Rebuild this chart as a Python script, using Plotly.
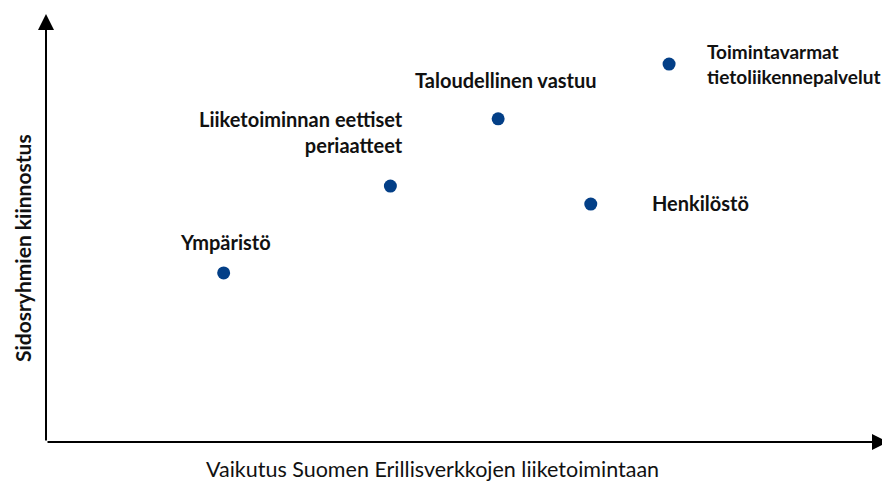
import plotly.graph_objects as go

labels = ["Ympäristö", "Liiketoiminnan eettiset<br>periaatteet", "Taloudellinen vastuu",
          "Henkilöstö", "Toimintavarmat<br>tietoliikennepalvelut"]
impact = [2.11, 4.09, 5.37, 6.47, 7.40]
interest = [3.95, 5.98, 7.55, 5.56, 8.83]

x_title = "Vaikutus Suomen Erillisverkkojen liiketoimintaan"
y_title = "Sidosryhmien kiinnostus"

FONT = "Lato"
fig = go.Figure()
fig.add_trace(go.Scatter(
    x=impact, y=interest, mode="markers",
    marker=dict(size=13, color="#033f87"),
    hoverinfo="skip", showlegend=False,
))

# label placement: (xanchor, yanchor, xshift, yshift, align, size)
place = [
    ("center", "bottom", 2, 17, "center", 20),
    ("right", "bottom", 15, 27, "right", 20),
    ("center", "bottom", 8, 25, "center", 20),
    ("left", "middle", 59, 1, "left", 20),
    ("left", "middle", 36, 0, "left", 19),
]
for lab, xv, yv, (xa, ya, xs, ys, al, sz) in zip(labels, impact, interest, place):
    fig.add_annotation(x=xv, y=yv, text=lab, showarrow=False,
                       xanchor=xa, yanchor=ya, xshift=xs, yshift=ys, align=al,
                       font=dict(family=FONT, size=sz, color="#111", weight="bold"))

# axis arrows
for (x, y) in [(1, 0), (0, 1)]:
    fig.add_annotation(xref="x domain", yref="y domain", axref="x domain", ayref="y domain",
                       x=x, y=y, ax=0, ay=0, text="", showarrow=True,
                       arrowhead=2, arrowsize=1.6, arrowwidth=2, arrowcolor="#000")

fig.add_annotation(xref="paper", yref="paper", x=(432 - 46) / 842, y=0, yshift=-27,
                   text=x_title, showarrow=False, xanchor="center", yanchor="middle",
                   font=dict(family=FONT, size=21.5, color="#111"))
fig.add_annotation(xref="paper", yref="paper", x=0, y=(442 - 248) / 428, xshift=-24,
                   text=y_title, showarrow=False, textangle=-90,
                   xanchor="center", yanchor="middle",
                   font=dict(family=FONT, size=21, color="#111", weight="bold"))

fig.update_xaxes(range=[0, 10], visible=False)
fig.update_yaxes(range=[0, 10], visible=False)
fig.update_layout(
    width=882, height=474,
    margin=dict(l=38, r=2, t=6, b=40),
    plot_bgcolor="white", paper_bgcolor="white",
)
fig.write_html("out.html")
